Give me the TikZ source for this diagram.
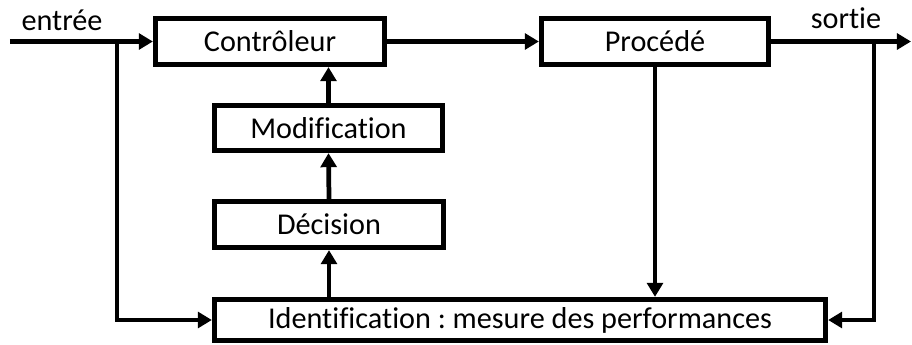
\documentclass[tikz,border=0pt]{standalone}
\usepackage{fontspec}
\setmainfont{Carlito}[Ligatures=NoCommon]
\frenchspacing
\usetikzlibrary{positioning,arrows.meta}

\begin{document}
\begin{tikzpicture}[
    >={Triangle[length=8pt,width=9pt]},
    every node/.style={font=\fontsize{17.2}{20}\selectfont},
    block/.style={draw, line width=2.7pt, minimum height=0.93cm, inner sep=0pt},
    link/.style={->, line width=2.7pt}
]
    \useasboundingbox (0,0) rectangle (18.24,-6.9);

    \node[block, minimum width=4.59cm] (ctrl) at (5.40,-0.83) {Contrôleur};
    \node[block, minimum width=4.55cm] (proc) at (13.10,-0.83) {Procédé};
    \node[block, minimum width=4.57cm, minimum height=0.91cm] (modif) at (6.57,-2.56) {Modification};
    \node[block, minimum width=4.59cm] (dec) at (6.58,-4.49) {Décision};
    \node[block, minimum width=12.23cm, minimum height=0.83cm] (ident) at (10.40,-6.40) {Identification : mesure des performances};

    \node (entree) at (1.24,-0.40) {entrée};
    \node (sortie) at (16.92,-0.36) {sortie};

    \coordinate (in) at (0.2,-0.83);
    \coordinate (split1) at (2.34,-0.83);
    \coordinate (out) at (18.22,-0.83);
    \coordinate (split2) at (17.48,-0.83);

    \draw[link] (in) -- (ctrl.west);
    \draw[link] (ctrl.east) -- (proc.west);
    \draw[link] (proc.east) -- (out);

    \draw[link] (split1) |- (ident.west);
    \draw[link] (split2) |- (ident.east);
    \draw[link] (proc.south) -- (proc.south |- ident.north);

    \draw[link] (dec.south |- ident.north) -- (dec.south);
    \draw[link] (dec.north) -- (modif.south);
    \draw[link] (modif.north) -- (modif.north |- ctrl.south);
\end{tikzpicture}
\end{document}
